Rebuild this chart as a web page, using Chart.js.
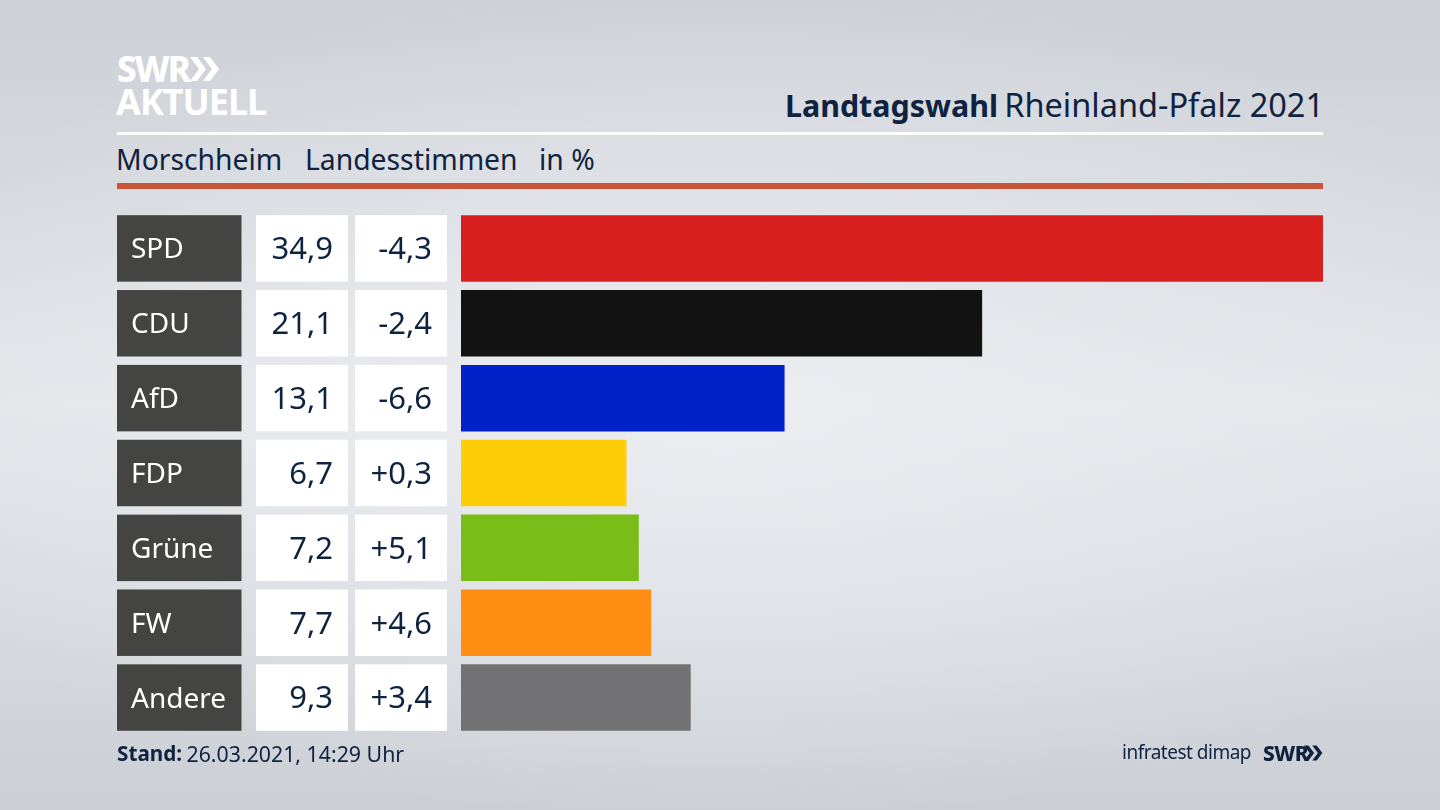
<!DOCTYPE html>
<html lang="de">
<head>
<meta charset="utf-8">
<title>Landtagswahl Rheinland-Pfalz 2021</title>
<script src="https://cdn.jsdelivr.net/npm/chart.js@4"></script>
<style>
    html, body { margin: 0; padding: 0; }
    body {
        width: 1440px; height: 810px; overflow: hidden; position: relative;
        font-family: "Noto Sans", sans-serif; color: #0f2240;
        background:
            radial-gradient(ellipse 900px 420px at 50% 50%, rgba(235,237,241,0.9), rgba(235,237,241,0) 100%),
            linear-gradient(180deg, #cdd0d6 0%, #d6d9de 25%, #e4e6ea 50%, #d6d9de 78%, #cbced4 100%);
    }
    canvas { position: absolute; left: 0; top: 0; }
    .txt { position: absolute; white-space: nowrap; line-height: 1; }
    .rule { position: absolute; left: 117px; width: 1206px; }
    .chev { position: absolute; }
</style>
</head>
<body>
<div class="txt" style="left:117px;top:51px;font-size:35px;font-weight:800;color:#fff;letter-spacing:-2px">SWR</div>
<svg class="chev" style="left:190px;top:57px" width="30" height="24" viewBox="0 0 30 24"><path d="M0 0h7l9 12-9 12H0l9-12zM13 0h7l9 12-9 12h-7l9-12z" fill="#fff"/></svg>
<div class="txt" style="left:116px;top:84px;font-size:36px;font-weight:700;color:#fff;letter-spacing:-1px">AKTUELL</div>

<div class="txt" style="right:116px;top:89px"><b style="font-size:30.4px">Landtagswahl</b> <span style="font-size:32.5px;margin-left:2px">Rheinland-Pfalz 2021</span></div>
<div class="rule" style="top:132px;height:3px;background:#fff"></div>
<div class="txt" style="left:116px;top:145px;font-size:28.3px">Morschheim</div>
<div class="txt" style="left:305px;top:145px;font-size:28.3px">Landesstimmen</div>
<div class="txt" style="left:539px;top:145px;font-size:28.3px">in %</div>
<div class="rule" style="top:183px;height:6px;background:#c9543c"></div>

<canvas id="resultChart" width="1440" height="810"></canvas>

<div class="txt" style="left:117px;top:743px;font-size:20.7px;font-weight:700">Stand:</div>
<div class="txt" style="left:186.5px;top:742.5px;font-size:21.3px">26.03.2021, 14:29 Uhr</div>
<div class="txt" style="right:189px;top:743px;font-size:19px;letter-spacing:-0.5px">infratest dimap</div>
<div class="txt" style="left:1263px;top:743px;font-size:21px;font-weight:800;letter-spacing:-0.5px">SWR</div>
<svg class="chev" style="left:1304px;top:745px" width="19" height="16" viewBox="0 0 30 24"><path d="M0 0h7l9 12-9 12H0l9-12zM13 0h7l9 12-9 12h-7l9-12z" fill="#0f2240"/></svg>

<script>
const parties = ['SPD', 'CDU', 'AfD', 'FDP', 'Grüne', 'FW', 'Andere'];
const shares = [34.9, 21.1, 13.1, 6.7, 7.2, 7.7, 9.3];
const changes = ['-4,3', '-2,4', '-6,6', '+0,3', '+5,1', '+4,6', '+3,4'];
const partyColors = ['#d81f1f', '#121212', '#0022c8', '#ffcc08', '#7abd18', '#ff8e14', '#727274'];

const formatShare = v => v.toFixed(1).replace('.', ',');

// table cells left of the bars, rows follow the category scale
const tableCells = {
    id: 'tableCells',
    afterDatasetsDraw(chart) {
        const { ctx, scales: { y } } = chart;
        const barH = chart.getDatasetMeta(0).data[0].height;
        ctx.save();
        ctx.textBaseline = 'middle';
        parties.forEach((name, i) => {
            const mid = y.getPixelForValue(i);
            const top = mid - barH / 2;
            ctx.fillStyle = '#444442';
            ctx.fillRect(117, top, 124.5, barH);
            ctx.fillStyle = '#ffffff';
            ctx.fillRect(256, top, 92, barH);
            ctx.fillRect(355, top, 92, barH);

            ctx.font = '28px "Noto Sans"';
            ctx.textAlign = 'left';
            ctx.fillText(name, 131, mid + 2);
            ctx.font = '31px "Noto Sans"';
            ctx.textAlign = 'right';
            ctx.fillStyle = '#0f2240';
            ctx.fillText(formatShare(shares[i]), 333, mid + 2);
            ctx.fillText(changes[i], 432, mid + 2);
        });
        ctx.restore();
    }
};

new Chart(document.getElementById('resultChart').getContext('2d'), {
    type: 'bar',
    data: {
        labels: parties,
        datasets: [{
            data: shares,
            backgroundColor: partyColors,
            barPercentage: 0.888,
            categoryPercentage: 1
        }]
    },
    options: {
        indexAxis: 'y',
        responsive: false,
        animation: false,
        layout: { padding: { left: 461, right: 117, top: 211, bottom: 75 } },
        scales: {
            x: { display: false, min: 0, max: 34.9 },
            y: { display: false }
        },
        plugins: {
            legend: { display: false },
            tooltip: { enabled: false }
        }
    },
    plugins: [tableCells]
});
</script>
</body>
</html>
